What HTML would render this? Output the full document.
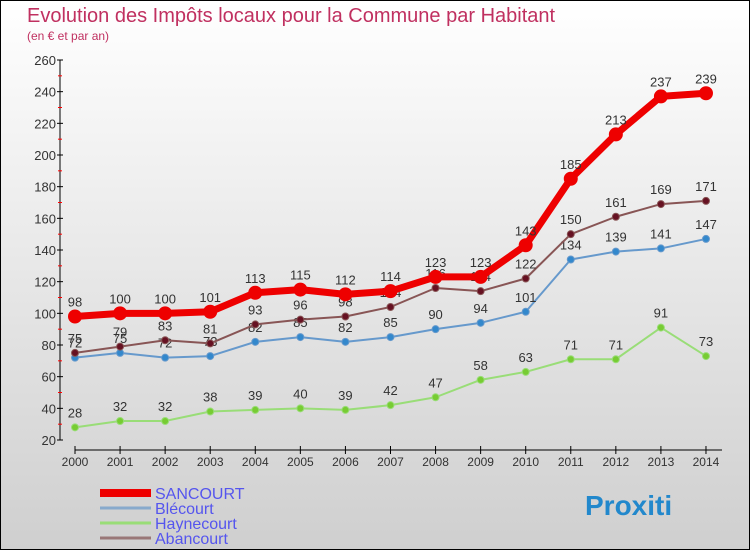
<!DOCTYPE html>
<html><head><meta charset="utf-8"><style>
body{margin:0;width:750px;height:550px;overflow:hidden}
#c{position:absolute;left:0;top:0;width:748px;height:548px;border:1px solid #000;background:linear-gradient(#ffffff,#cfcfcf)}
svg{position:absolute;left:0;top:0}
text{font-family:"Liberation Sans",sans-serif}
</style></head><body>
<div id="c"></div>
<svg id="s" width="750" height="550">
<text x="27" y="22" font-size="20" fill="#c03060">Evolution des Impôts locaux pour la Commune par Habitant</text>
<text x="27" y="40" font-size="12" fill="#c03060">(en € et par an)</text>
</svg>
<script>
const years=[2000,2001,2002,2003,2004,2005,2006,2007,2008,2009,2010,2011,2012,2013,2014];
const sancourt=[98,100,100,101,113,115,112,114,123,123,143,185,213,237,239];
const blecourt=[72,75,72,73,82,85,82,85,90,94,101,134,139,141,147];
const haynecourt=[28,32,32,38,39,40,39,42,47,58,63,71,71,91,73];
const abancourt=[75,79,83,81,93,96,98,104,116,114,122,150,161,169,171];
const yTicks=[20,40,60,80,100,120,140,160,180,200,220,240,260];
const s=document.getElementById('s');const NS='http://www.w3.org/2000/svg';
const X=i=>75+i*45.07;const Y=v=>440-(v-20)*380/240;
function mk(t,a,p){const e=document.createElementNS(NS,t);for(const k in a)e.setAttribute(k,a[k]);(p||s).appendChild(e);return e;}
const ax=mk('g',{});


mk('line',{x1:60,y1:60,x2:60,y2:440,stroke:'#000','stroke-width':1},ax);
mk('line',{x1:75,y1:450,x2:722,y2:450,stroke:'#000','stroke-width':1},ax);
yTicks.forEach((v,i)=>{mk('line',{x1:57,x2:63,y1:Y(v),y2:Y(v),stroke:'#000'},ax);
 if(i<yTicks.length-1)mk('line',{x1:58,x2:62,y1:Y(v+10),y2:Y(v+10),stroke:'#f00'},ax);
 const t=mk('text',{x:56,y:Y(v)+5,'text-anchor':'end','font-size':13,fill:'#333'},ax);t.textContent=v;
 
 });
years.forEach((y,i)=>{mk('line',{x1:X(i),x2:X(i),y1:446,y2:454,stroke:'#000'},ax);
 const t=mk('text',{x:X(i),y:466,'text-anchor':'middle','font-size':12,fill:'#333'},ax);t.textContent=y;
 
 });
function series(data,col,dot,w,r,name,fs){const g=mk('g',{});
 
 
 mk('polyline',{points:data.map((v,i)=>X(i)+','+Y(v)).join(' '),fill:'none',stroke:col,'stroke-width':w,'stroke-linejoin':'round'},g);
 data.forEach((v,i)=>{mk('circle',{cx:X(i),cy:Y(v),r:r,fill:dot,stroke:col,'stroke-width':1},g);
  const t=mk('text',{x:X(i),y:Y(v)-10,'text-anchor':'middle','font-size':fs,fill:'#333'},g);t.textContent=v;
  
  });}
series(haynecourt,'#99dd77','#77cc33',2,3.5,'series-haynecourt',13);
series(blecourt,'#6699cc','#3388cc',2,3.5,'series-blecourt',13);
series(abancourt,'#885555','#661122',2,3.5,'series-abancourt',13);
series(sancourt,'#ee0000','#ee0000',7,6.5,'series-sancourt',13);
const names=['SANCOURT','Blécourt','Haynecourt','Abancourt'];const cols=['#ee0000','#88aacc','#99dd77','#997777'];const ws=[8,3,3,3];
names.forEach((n,i)=>{const g=mk('g',{});
 
 
 const yy=493+i*15;mk('line',{x1:100,x2:151,y1:yy,y2:yy,stroke:cols[i],'stroke-width':ws[i]},g);
 const t=mk('text',{x:155,y:yy+6,'font-size':16,fill:'#5555ee'},g);t.textContent=n;});
const lg=mk('text',{x:585,y:515,'font-size':28,'font-weight':'bold',fill:'#2288cc'});lg.textContent='Proxiti';


</script>
</body></html>
